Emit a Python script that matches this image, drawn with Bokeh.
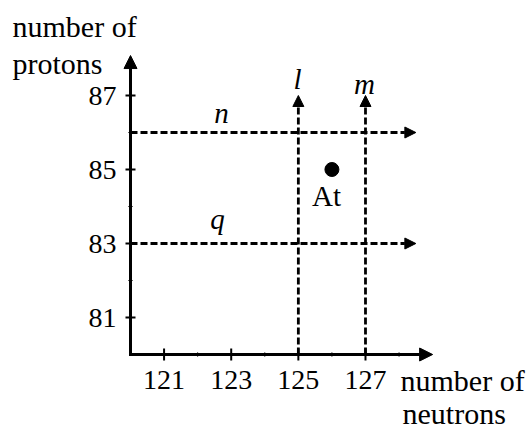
from bokeh.plotting import figure
from bokeh.models import Range1d, Arrow, NormalHead
from bokeh.embed import file_html
from bokeh.resources import INLINE
from bokeh.core.properties import value
import math

# ---- data ----
x_ticks = [121, 123, 125, 127]
x_tick_labels = ["121", "123", "125", "127"]
x_minor = [122, 124, 126, 128]
y_ticks = [81, 83, 85, 87]
y_tick_labels = ["81", "83", "85", "87"]
y_minor = [82, 84, 86]
proton_lines = [86, 83]          # horizontal dashed lines
proton_names = ["n", "q"]
neutron_lines = [125, 127]       # vertical dashed lines
neutron_names = ["l", "m"]
at_neutrons = [126]
at_protons = [85]
at_names = ["At"]
x_origin, y_origin = 120, 80
x_axis_end, y_axis_end = 129.0, 88.08
h_line_end = 128.5
v_line_end = 87.0

# ---- layout ----
W, H = 531, 431
SX, SY = 33.57, 37.0
x0 = x_origin - 130 / SX
x1 = x0 + W / SX
y1 = y_origin + 354 / SY
y0 = y1 - H / SY


def dx(px):
    return x0 + px / SX


def dy(py):
    return y1 - py / SY


SERIF = value("Liberation Serif")

p = figure(width=W, height=H, x_range=Range1d(x0, x1), y_range=Range1d(y0, y1),
           output_backend="svg", toolbar_location=None, min_border=0,
           x_axis_location=None, y_axis_location=None)
p.grid.visible = False
p.outline_line_color = None
p.background_fill_color = "white"
p.border_fill_color = "white"

# axes with arrows
p.add_layout(Arrow(x_start=x_origin, y_start=y_origin, x_end=x_axis_end, y_end=y_origin,
                   line_width=3, line_color="black",
                   end=NormalHead(size=13, fill_color="black", line_color="black", line_width=1)))
p.add_layout(Arrow(x_start=x_origin, y_start=y_origin - 1.5 / SY, x_end=x_origin, y_end=y_axis_end,
                   line_width=3, line_color="black",
                   end=NormalHead(size=13, fill_color="black", line_color="black", line_width=1)))

# ticks
p.scatter(x=x_ticks, y=[y_origin] * len(x_ticks), marker="dash", size=12,
          angle=math.pi / 2, line_color="black", line_width=2)
p.scatter(x=[x_origin] * len(y_ticks), y=y_ticks, marker="dash", size=10,
          line_color="black", line_width=2)
p.scatter(x=x_minor, y=[y_origin] * len(x_minor), marker="dash", size=5,
          angle=math.pi / 2, line_color="#666666", line_width=1)
p.scatter(x=[x_origin] * len(y_minor), y=y_minor, marker="dash", size=5,
          line_color="#666666", line_width=1)

# tick labels
p.text(x=x_ticks, y=[dy(379)] * len(x_ticks), text=x_tick_labels,
       text_font=SERIF, text_font_size="28px", text_align="center",
       text_baseline="middle", text_color="black")
p.text(x=[dx(116)] * len(y_ticks), y=y_ticks, text=y_tick_labels,
       text_font=SERIF, text_font_size="28px", text_align="right",
       text_baseline="middle", text_color="black")

# dashed lines with arrows
for yv in proton_lines:
    p.add_layout(Arrow(x_start=x_origin, y_start=yv, x_end=h_line_end, y_end=yv,
                       line_width=2.8, line_color="black", line_dash="7 3",
                       end=NormalHead(size=11, fill_color="black", line_color="black", line_width=1)))
for xv in neutron_lines:
    p.add_layout(Arrow(x_start=xv, y_start=y_origin, x_end=xv, y_end=v_line_end,
                       line_width=2.8, line_color="black", line_dash="7 3",
                       end=NormalHead(size=11, fill_color="black", line_color="black", line_width=1)))

# line names
p.text(x=[dx(221), dx(217)], y=[dy(112), dy(218)], text=proton_names,
       text_font=SERIF, text_font_style="italic", text_font_size="29px",
       text_align="center", text_baseline="middle", text_color="black")
p.text(x=[dx(297), dx(364)], y=[dy(78), dy(83)], text=neutron_names,
       text_font=SERIF, text_font_style="italic", text_font_size="29px",
       text_align="center", text_baseline="middle", text_color="black")

# At point
p.scatter(x=at_neutrons, y=at_protons, marker="circle", size=14,
          fill_color="black", line_color="black")
p.text(x=[dx(326)], y=[dy(195)], text=at_names,
       text_font=SERIF, text_font_size="29px", text_align="center",
       text_baseline="middle", text_color="black")

# axis titles
p.text(x=[dx(12), dx(12)], y=[dy(26), dy(63)], text=["number of", "protons"],
       text_font=SERIF, text_font_size="30px", text_align="left",
       text_baseline="middle", text_color="black")
p.text(x=[dx(400), dx(402)], y=[dy(380), dy(413)], text=["number of", "neutrons"],
       text_font=SERIF, text_font_size="30px", text_align="left",
       text_baseline="middle", text_color="black")

open("out.html", "w").write(file_html(p, INLINE))
